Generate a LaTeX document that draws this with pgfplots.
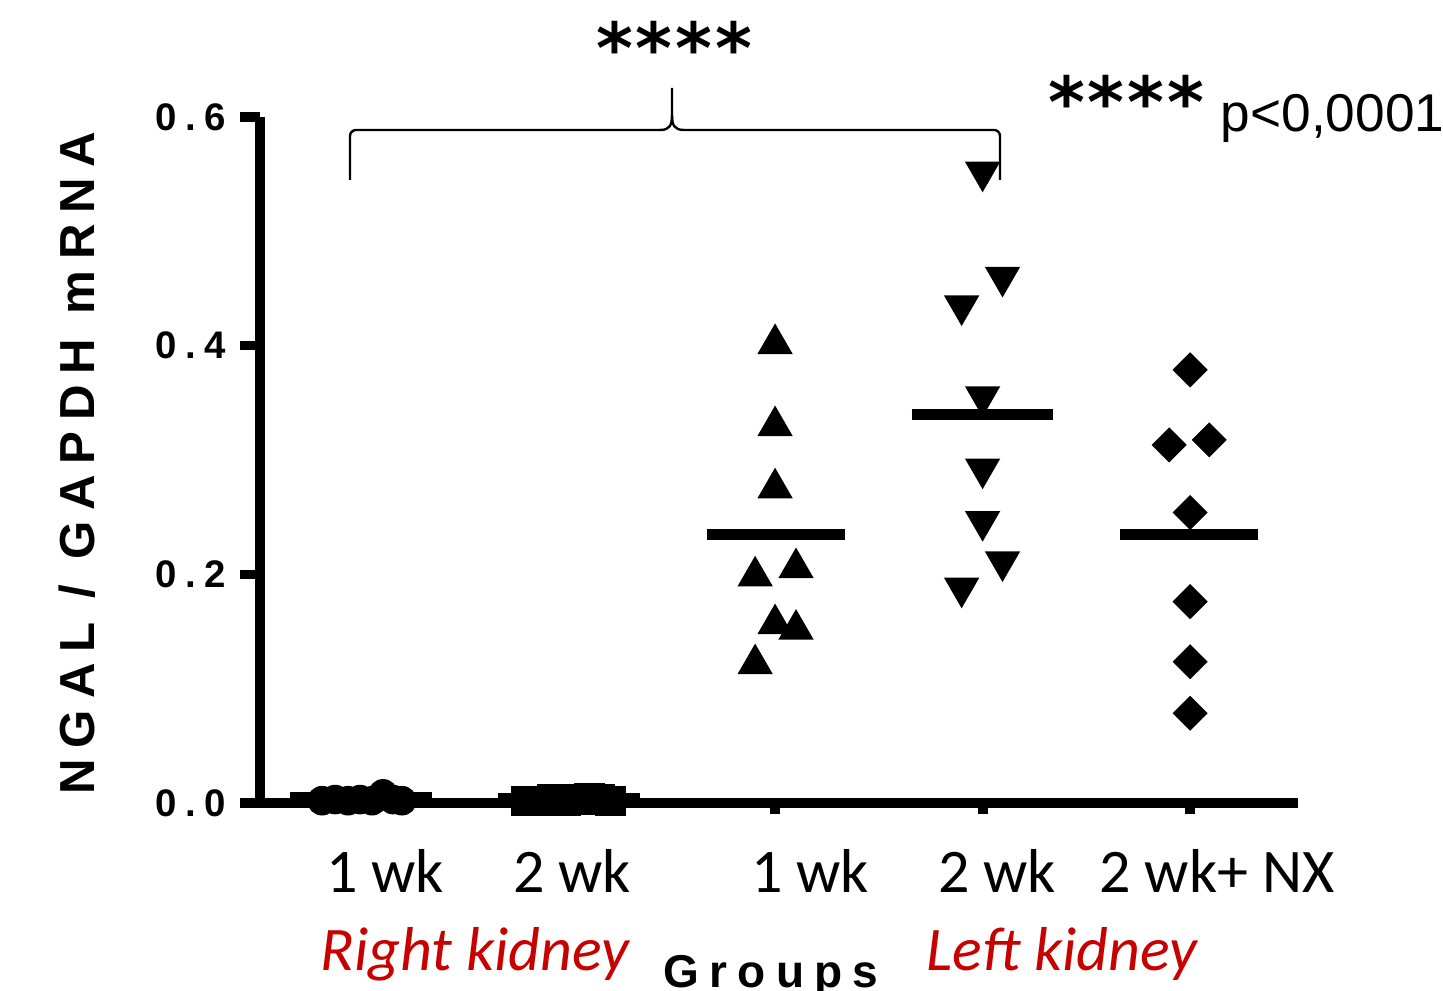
\documentclass[border=0pt]{standalone}
\usepackage{fontspec}
\usepackage{pgfplots}
\pgfplotsset{compat=1.18}
\setmainfont{Liberation Sans}
\newfontfamily\lsbsp{Liberation Sans}[LetterSpace=22]
\newfontfamily\lsb{Liberation Sans}
\newfontfamily\dvs{DejaVu Sans}[LetterSpace=4]
\newfontfamily\carl{Carlito}
\definecolor{kred}{RGB}{200,0,0}

\begin{document}
\begin{tikzpicture}
\useasboundingbox (0,0) rectangle (360.75pt,247.75pt);
\begin{axis}[
  at={(65pt,47pt)}, anchor=south west,
  scale only axis, width=259.5pt, height=171.5pt,
  xmin=0.518, xmax=5.52, ymin=0, ymax=0.6,
  clip=false,
  axis x line=bottom, axis y line=left,
  axis line style={line width=2.4pt, -},
  tick align=outside,
  major tick length=5pt,
  ytick={0,0.2,0.4,0.6},
  yticklabels={0.0,0.2,0.4,0.6},
  y tick label style={font=\lsbsp\bfseries\fontsize{9.6}{10}\selectfont},
  ytick style={line width=2.4pt, black},
  xtick={3,4,5}, xticklabels={},
  xtick style={line width=2.5pt, black, /pgfplots/major tick length=2.7pt},
]
% Right kidney 1 wk
\addplot[only marks, mark=*, mark size=3.5pt, black] coordinates {
 (0.817,0.002) (0.880,0.003) (0.942,0.002) (1.000,0.003)
 (1.058,0.002) (1.111,0.008) (1.159,0.003) (1.202,0.002)};
% Right kidney 2 wk
\addplot[only marks, mark=square*, mark size=3.6pt, black] coordinates {
 (1.802,0.002) (1.865,0.002) (1.928,0.003) (1.990,0.002)
 (2.048,0.003) (2.106,0.004) (2.154,0.003) (2.207,0.002)};
% Left kidney 1 wk
\addplot[only marks, mark=triangle*, mark size=4.7pt, black] coordinates {
 (3.000,0.4016) (3.000,0.3298) (3.000,0.2754) (2.904,0.1984)
 (3.101,0.2056) (3.000,0.1566) (3.101,0.1518) (2.904,0.1216)};
% Left kidney 2 wk
\addplot[only marks, mark=triangle*, mark size=4.7pt, mark options={rotate=180}, black] coordinates {
 (4.000,0.552) (3.899,0.435) (4.096,0.460) (4.000,0.3555)
 (4.000,0.2923) (4.000,0.2464) (4.096,0.2111) (3.899,0.1881)};
% Left kidney 2 wk + NX
\addplot[only marks, mark=square*, mark size=2.9pt, mark options={rotate=45}, black] coordinates {
 (5.000,0.3788) (4.899,0.3132) (5.092,0.3176) (5.000,0.254)
 (5.000,0.1761) (5.000,0.1236) (5.000,0.0785)};
% means
\addplot[no marks, line width=2.7pt, black] coordinates {(0.663,0.005) (1.347,0.005)};
\addplot[no marks, line width=2.7pt, black] coordinates {(1.667,0.004) (2.350,0.004)};
\addplot[no marks, line width=2.7pt, black] coordinates {(2.672,0.2345) (3.337,0.2345)};
\addplot[no marks, line width=2.7pt, black] coordinates {(3.658,0.3395) (4.337,0.3395)};
\addplot[no marks, line width=2.7pt, black] coordinates {(4.663,0.2345) (5.328,0.2345)};
\end{axis}

% brace
\draw[line width=0.6pt, rounded corners=1.5pt]
  (87.5pt,202.75pt) -- (87.5pt,215.25pt) -- (165pt,215.25pt);
\draw[line width=0.6pt] (165pt,215.25pt) .. controls (167.5pt,215.25pt) and (168pt,216.5pt) .. (168pt,219pt) -- (168pt,225.75pt);
\draw[line width=0.6pt] (168pt,219pt) .. controls (168pt,216.5pt) and (168.5pt,215.25pt) .. (171pt,215.25pt);
\draw[line width=0.6pt, rounded corners=1.5pt]
  (171pt,215.25pt) -- (250pt,215.25pt) -- (250pt,202.75pt);

% stars and p value
\node[anchor=base, inner sep=0pt, font=\dvs\bfseries\fontsize{17.6}{18}\selectfont] at (168.5pt,229.25pt) {****};
\node[anchor=base, inner sep=0pt, font=\dvs\bfseries\fontsize{17.6}{18}\selectfont] at (281.5pt,215.75pt) {****};
\node[anchor=base west, inner sep=0pt, font=\lsb\fontsize{13.3}{14}\selectfont] at (305pt,214.75pt) {p<0,0001};

% x tick labels
\begin{scope}[every node/.style={anchor=base, inner sep=0pt, font=\carl\fontsize{15.5}{16}\selectfont}]
\node at (96.25pt,24.5pt) {1 wk};
\node at (143pt,24.5pt) {2 wk};
\node at (202.5pt,24.5pt) {1 wk};
\node at (249.25pt,24.5pt) {2 wk};
\node at (304.25pt,24.5pt) {2 wk+ NX};
\end{scope}
\node[anchor=base, inner sep=0pt, text=kred, font=\carl\itshape\fontsize{15.5}{16}\selectfont] at (118.75pt,5pt) {Right kidney};
\node[anchor=base, inner sep=0pt, text=kred, font=\carl\itshape\fontsize{15.5}{16}\selectfont] at (265.5pt,5pt) {Left kidney};

% axis titles
\node[anchor=base, inner sep=0pt, font=\lsbsp\bfseries\fontsize{11.5}{12}\selectfont] at (192.75pt,0.75pt) {Groups};
\node[anchor=base, rotate=90, inner sep=0pt, font=\lsbsp\bfseries\fontsize{12.3}{13}\selectfont] at (23.75pt,132pt) {NGAL / GAPDH mRNA};
\end{tikzpicture}
\end{document}
